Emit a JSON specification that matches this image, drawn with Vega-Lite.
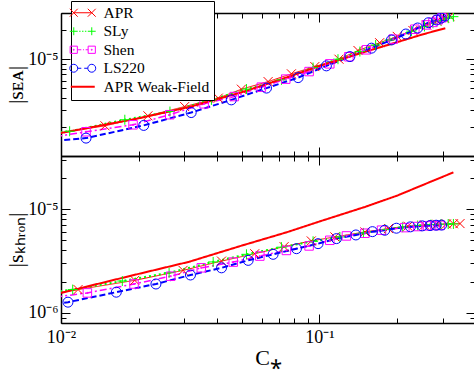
{
  "$schema": "https://vega.github.io/schema/vega-lite/v6.json",
  "background": "white",
  "padding": {"left": 4, "top": 0, "right": 1, "bottom": 2},
  "spacing": 0,
  "bounds": "flush",
  "config": {
    "font": "Liberation Serif",
    "view": {"stroke": null},
    "axis": {
      "domainColor": "black", "domainWidth": 1.5, "tickColor": "black", "tickWidth": 1,
      "labelColor": "black", "titleColor": "black", "labelFont": "Liberation Serif",
      "titleFont": "Liberation Serif", "labelFontSize": 18, "titleFontSize": 22,
      "titleFontWeight": "normal", "grid": false, "labelFlush": false, "labelOverlap": false
    }
  },
  "datasets": {
    "d": [
      {"panel":"EA","model":"APR","C":0.0095,"S":1.70e-6},{"panel":"EA","model":"APR","C":0.0148,"S":2.05e-6},{"panel":"EA","model":"APR","C":0.0217,"S":2.6e-6},{"panel":"EA","model":"APR","C":0.0301,"S":3.24e-6},{"panel":"EA","model":"APR","C":0.0406,"S":3.96e-6},{"panel":"EA","model":"APR","C":0.0499,"S":4.9e-6},{"panel":"EA","model":"APR","C":0.0633,"S":5.87e-6},{"panel":"EA","model":"APR","C":0.0779,"S":7.06e-6},{"panel":"EA","model":"APR","C":0.096,"S":8.39e-6},{"panel":"EA","model":"APR","C":0.119,"S":1.0e-5},{"panel":"EA","model":"APR","C":0.141,"S":1.23e-5},{"panel":"EA","model":"APR","C":0.171,"S":1.48e-5},{"panel":"EA","model":"APR","C":0.2,"S":1.72e-5},{"panel":"EA","model":"APR","C":0.23,"S":1.98e-5},{"panel":"EA","model":"APR","C":0.26,"S":2.25e-5},{"panel":"EA","model":"APR","C":0.285,"S":2.48e-5},{"panel":"EA","model":"APR","C":0.305,"S":2.65e-5},{"panel":"EA","model":"APR","C":0.32,"S":2.78e-5},
      {"panel":"EA","model":"SLy","C":0.0095,"S":1.75e-6},{"panel":"EA","model":"SLy","C":0.0108,"S":1.8e-6},{"panel":"EA","model":"SLy","C":0.01766,"S":2.37e-6},{"panel":"EA","model":"SLy","C":0.0264,"S":2.88e-6},{"panel":"EA","model":"SLy","C":0.0382,"S":3.8e-6},{"panel":"EA","model":"SLy","C":0.0522,"S":4.91e-6},{"panel":"EA","model":"SLy","C":0.0713,"S":6.12e-6},{"panel":"EA","model":"SLy","C":0.0945,"S":8.2e-6},{"panel":"EA","model":"SLy","C":0.118,"S":1.0e-5},{"panel":"EA","model":"SLy","C":0.1434,"S":1.2e-5},{"panel":"EA","model":"SLy","C":0.165,"S":1.4e-5},{"panel":"EA","model":"SLy","C":0.187,"S":1.58e-5},{"panel":"EA","model":"SLy","C":0.227,"S":1.95e-5},{"panel":"EA","model":"SLy","C":0.255,"S":2.18e-5},{"panel":"EA","model":"SLy","C":0.275,"S":2.35e-5},{"panel":"EA","model":"SLy","C":0.295,"S":2.5e-5},{"panel":"EA","model":"SLy","C":0.315,"S":2.65e-5},{"panel":"EA","model":"SLy","C":0.33,"S":2.75e-5},
      {"panel":"EA","model":"Shen","C":0.0095,"S":1.58e-6},{"panel":"EA","model":"Shen","C":0.0125,"S":1.78e-6},{"panel":"EA","model":"Shen","C":0.019,"S":2.1e-6},{"panel":"EA","model":"Shen","C":0.02635,"S":2.67e-6},{"panel":"EA","model":"Shen","C":0.0358,"S":3.46e-6},{"panel":"EA","model":"Shen","C":0.0468,"S":4.11e-6},{"panel":"EA","model":"Shen","C":0.0596,"S":5.14e-6},{"panel":"EA","model":"Shen","C":0.0741,"S":6.22e-6},{"panel":"EA","model":"Shen","C":0.0912,"S":7.45e-6},{"panel":"EA","model":"Shen","C":0.1097,"S":8.95e-6},{"panel":"EA","model":"Shen","C":0.13,"S":1.06e-5},{"panel":"EA","model":"Shen","C":0.152,"S":1.25e-5},{"panel":"EA","model":"Shen","C":0.193,"S":1.61e-5},{"panel":"EA","model":"Shen","C":0.234,"S":2.04e-5},{"panel":"EA","model":"Shen","C":0.259,"S":2.26e-5},{"panel":"EA","model":"Shen","C":0.275,"S":2.4e-5},{"panel":"EA","model":"Shen","C":0.288,"S":2.55e-5},{"panel":"EA","model":"Shen","C":0.298,"S":2.68e-5},
      {"panel":"EA","model":"LS220","C":0.0095,"S":1.44e-6},{"panel":"EA","model":"LS220","C":0.0125,"S":1.53e-6},{"panel":"EA","model":"LS220","C":0.0209,"S":2.07e-6},{"panel":"EA","model":"LS220","C":0.0319,"S":2.81e-6},{"panel":"EA","model":"LS220","C":0.0456,"S":3.8e-6},{"panel":"EA","model":"LS220","C":0.0624,"S":5.03e-6},{"panel":"EA","model":"LS220","C":0.0827,"S":6.45e-6},{"panel":"EA","model":"LS220","C":0.1064,"S":8.53e-6},{"panel":"EA","model":"LS220","C":0.1312,"S":1.064e-5},{"panel":"EA","model":"LS220","C":0.159,"S":1.3e-5},{"panel":"EA","model":"LS220","C":0.19,"S":1.58e-5},{"panel":"EA","model":"LS220","C":0.216,"S":1.82e-5},{"panel":"EA","model":"LS220","C":0.24,"S":2.1e-5},{"panel":"EA","model":"LS220","C":0.264,"S":2.38e-5},{"panel":"EA","model":"LS220","C":0.284,"S":2.54e-5},{"panel":"EA","model":"LS220","C":0.296,"S":2.66e-5},{"panel":"EA","model":"LS220","C":0.306,"S":2.79e-5},
      {"panel":"EA","model":"APR Weak-Field","C":0.01,"S":1.73e-6},{"panel":"EA","model":"APR Weak-Field","C":0.015,"S":2.12e-6},{"panel":"EA","model":"APR Weak-Field","C":0.02,"S":2.45e-6},{"panel":"EA","model":"APR Weak-Field","C":0.0313,"S":3.2e-6},{"panel":"EA","model":"APR Weak-Field","C":0.05,"S":4.55e-6},{"panel":"EA","model":"APR Weak-Field","C":0.075,"S":6.5e-6},{"panel":"EA","model":"APR Weak-Field","C":0.1,"S":8.5e-6},{"panel":"EA","model":"APR Weak-Field","C":0.15,"S":1.19e-5},{"panel":"EA","model":"APR Weak-Field","C":0.2,"S":1.5e-5},{"panel":"EA","model":"APR Weak-Field","C":0.25,"S":1.8e-5},{"panel":"EA","model":"APR Weak-Field","C":0.307,"S":2.09e-5},
      {"panel":"khron","model":"APR","C":0.0095,"S":1.55e-6},{"panel":"khron","model":"APR","C":0.01164,"S":1.68e-6},{"panel":"khron","model":"APR","C":0.0193,"S":2.06e-6},{"panel":"khron","model":"APR","C":0.02967,"S":2.57e-6},{"panel":"khron","model":"APR","C":0.0418,"S":3.16e-6},{"panel":"khron","model":"APR","C":0.0562,"S":3.72e-6},{"panel":"khron","model":"APR","C":0.073,"S":4.35e-6},{"panel":"khron","model":"APR","C":0.093,"S":4.94e-6},{"panel":"khron","model":"APR","C":0.1148,"S":5.4e-6},{"panel":"khron","model":"APR","C":0.15,"S":6.03e-6},{"panel":"khron","model":"APR","C":0.185,"S":6.5e-6},{"panel":"khron","model":"APR","C":0.22,"S":6.85e-6},{"panel":"khron","model":"APR","C":0.255,"S":7.05e-6},{"panel":"khron","model":"APR","C":0.285,"S":7.15e-6},{"panel":"khron","model":"APR","C":0.31,"S":7.2e-6},{"panel":"khron","model":"APR","C":0.33,"S":7.23e-6},{"panel":"khron","model":"APR","C":0.35,"S":7.26e-6},
      {"panel":"khron","model":"SLy","C":0.0095,"S":1.6e-6},{"panel":"khron","model":"SLy","C":0.0111,"S":1.68e-6},{"panel":"khron","model":"SLy","C":0.01727,"S":2.03e-6},{"panel":"khron","model":"SLy","C":0.0262,"S":2.44e-6},{"panel":"khron","model":"SLy","C":0.0388,"S":3.1e-6},{"panel":"khron","model":"SLy","C":0.0522,"S":3.67e-6},{"panel":"khron","model":"SLy","C":0.0713,"S":4.3e-6},{"panel":"khron","model":"SLy","C":0.0945,"S":4.9e-6},{"panel":"khron","model":"SLy","C":0.12,"S":5.4e-6},{"panel":"khron","model":"SLy","C":0.148,"S":5.9e-6},{"panel":"khron","model":"SLy","C":0.18,"S":6.35e-6},{"panel":"khron","model":"SLy","C":0.21,"S":6.7e-6},{"panel":"khron","model":"SLy","C":0.24,"S":6.95e-6},{"panel":"khron","model":"SLy","C":0.27,"S":7.1e-6},{"panel":"khron","model":"SLy","C":0.295,"S":7.15e-6},{"panel":"khron","model":"SLy","C":0.315,"S":7.18e-6},{"panel":"khron","model":"SLy","C":0.33,"S":7.2e-6},
      {"panel":"khron","model":"Shen","C":0.0095,"S":1.42e-6},{"panel":"khron","model":"Shen","C":0.01265,"S":1.56e-6},{"panel":"khron","model":"Shen","C":0.01917,"S":1.9e-6},{"panel":"khron","model":"Shen","C":0.0266,"S":2.26e-6},{"panel":"khron","model":"Shen","C":0.0349,"S":2.72e-6},{"panel":"khron","model":"Shen","C":0.0464,"S":3.09e-6},{"panel":"khron","model":"Shen","C":0.0588,"S":3.53e-6},{"panel":"khron","model":"Shen","C":0.0745,"S":4.0e-6},{"panel":"khron","model":"Shen","C":0.0912,"S":4.42e-6},{"panel":"khron","model":"Shen","C":0.1097,"S":5.01e-6},{"panel":"khron","model":"Shen","C":0.1272,"S":5.52e-6},{"panel":"khron","model":"Shen","C":0.15,"S":5.86e-6},{"panel":"khron","model":"Shen","C":0.1739,"S":6.27e-6},{"panel":"khron","model":"Shen","C":0.214,"S":6.64e-6},{"panel":"khron","model":"Shen","C":0.24,"S":6.8e-6},{"panel":"khron","model":"Shen","C":0.262,"S":6.9e-6},{"panel":"khron","model":"Shen","C":0.28,"S":6.95e-6},{"panel":"khron","model":"Shen","C":0.293,"S":6.98e-6},
      {"panel":"khron","model":"LS220","C":0.0095,"S":1.22e-6},{"panel":"khron","model":"LS220","C":0.01064,"S":1.27e-6},{"panel":"khron","model":"LS220","C":0.01637,"S":1.585e-6},{"panel":"khron","model":"LS220","C":0.0233,"S":1.9e-6},{"panel":"khron","model":"LS220","C":0.0317,"S":2.32e-6},{"panel":"khron","model":"LS220","C":0.0418,"S":2.72e-6},{"panel":"khron","model":"LS220","C":0.053,"S":3.21e-6},{"panel":"khron","model":"LS220","C":0.0662,"S":3.67e-6},{"panel":"khron","model":"LS220","C":0.0815,"S":4.16e-6},{"panel":"khron","model":"LS220","C":0.0988,"S":4.65e-6},{"panel":"khron","model":"LS220","C":0.1164,"S":5.2e-6},{"panel":"khron","model":"LS220","C":0.1384,"S":5.64e-6},{"panel":"khron","model":"LS220","C":0.1604,"S":6.07e-6},{"panel":"khron","model":"LS220","C":0.179,"S":6.26e-6},{"panel":"khron","model":"LS220","C":0.1986,"S":6.55e-6},{"panel":"khron","model":"LS220","C":0.225,"S":6.75e-6},{"panel":"khron","model":"LS220","C":0.25,"S":6.9e-6},{"panel":"khron","model":"LS220","C":0.268,"S":6.95e-6},{"panel":"khron","model":"LS220","C":0.283,"S":7.0e-6},{"panel":"khron","model":"LS220","C":0.297,"S":7.02e-6},
      {"panel":"khron","model":"APR Weak-Field","C":0.01,"S":1.56e-6},{"panel":"khron","model":"APR Weak-Field","C":0.02,"S":2.38e-6},{"panel":"khron","model":"APR Weak-Field","C":0.0313,"S":3.11e-6},{"panel":"khron","model":"APR Weak-Field","C":0.05,"S":4.45e-6},{"panel":"khron","model":"APR Weak-Field","C":0.075,"S":6.0e-6},{"panel":"khron","model":"APR Weak-Field","C":0.1,"S":7.6e-6},{"panel":"khron","model":"APR Weak-Field","C":0.15,"S":1.05e-5},{"panel":"khron","model":"APR Weak-Field","C":0.2,"S":1.35e-5},{"panel":"khron","model":"APR Weak-Field","C":0.25,"S":1.7e-5},{"panel":"khron","model":"APR Weak-Field","C":0.3,"S":2.05e-5},{"panel":"khron","model":"APR Weak-Field","C":0.33,"S":2.26e-5}
    ]
  },
  "resolve": {"scale": {"color": "independent"}, "legend": {"color": "independent"}},
  "vconcat": [
    {
      "width": 414, "height": 143,
      "data": {"name": "d"},
      "transform": [{"filter": "datum.panel == 'EA'"}],
      "resolve": {"axis": {"x": "independent", "y": "independent"}},
      "layer": [
        {
          "mark": {"type": "line", "clip": true},
          "encoding": {
            "x": {"field": "C", "type": "quantitative", "scale": {"type": "log", "domain": [0.01, 0.4], "nice": false},
                  "axis": {"orient": "bottom", "title": null, "labels": false, "values": [0.01,0.02,0.03,0.04,0.05,0.06,0.07,0.08,0.09,0.1,0.2,0.3],
                           "tickSize": {"condition": {"test": "datum.value == 0.01 || datum.value == 0.1", "value": -9}, "value": -5}}},
            "y": {"field": "S", "type": "quantitative", "scale": {"type": "log", "domain": [1e-6, 3e-5], "nice": false},
                  "axis": {"orient": "left", "title": "|sᴇᴀ|", "titlePadding": 0, "labelPadding": 12,
                           "values": [1e-6,2e-6,3e-6,4e-6,5e-6,6e-6,7e-6,8e-6,9e-6,1e-5,2e-5,3e-5],
                           "labelExpr": "datum.value == 1e-5 ? '10⁻⁵' : ''",
                           "tickSize": {"condition": {"test": "datum.value == 1e-5 || datum.value == 1e-6", "value": -9}, "value": -5}}},
            "color": {"field": "model", "type": "nominal",
                      "scale": {"domain": ["APR", "SLy", "Shen", "LS220", "APR Weak-Field"], "range": ["#ff0000", "#00ff00", "#ff00ff", "#0000ff", "#ff0000"]},
                      "legend": {
                        "orient": "none", "legendX": 10, "legendY": -12, "title": null,
                        "strokeColor": "black", "fillColor": "white", "padding": 4,
                        "labelFont": "Liberation Serif", "labelFontSize": 15.5, "labelColor": "black", "labelOffset": 13,
                        "symbolSize": 576, "symbolStrokeWidth": 1, "rowPadding": 1.5,
                        "encode": {"symbols": {"update": {
                          "shape": {"signal": "datum.value == 'APR' ? 'M-1.08,-0.33L-0.42,0.33M-1.08,0.33L-0.42,-0.33M-0.75,0H0.75M0.42,-0.33L1.08,0.33M0.42,0.33L1.08,-0.33' : datum.value == 'SLy' ? 'M-1.08,0H-0.42M-0.75,-0.33V0.33M-0.3,0H-0.18M-0.06,0H0.06M0.18,0H0.3M0.42,0H1.08M0.75,-0.33V0.33' : datum.value == 'Shen' ? 'M-1.05,-0.3H-0.45V0.3H-1.05ZM-0.78,-0.04H-0.72V0.04H-0.78ZM-0.45,0H-0.12M0.02,0H0.1M0.24,0H0.45M0.45,-0.3H1.05V0.3H0.45ZM0.72,-0.04H0.78V0.04H0.72Z' : datum.value == 'LS220' ? 'M-0.42,0A0.33,0.33,0,1,1,-1.08,0A0.33,0.33,0,1,1,-0.42,0ZM-0.42,0H-0.12M0.12,0H0.42M1.08,0A0.33,0.33,0,1,1,0.42,0A0.33,0.33,0,1,1,1.08,0Z' : 'M-1,0H1'"},
                          "stroke": {"signal": "datum.value == 'SLy' ? '#00ff00' : datum.value == 'Shen' ? '#ff00ff' : datum.value == 'LS220' ? '#0000ff' : '#ff0000'"},
                          "strokeWidth": {"signal": "datum.value == 'APR Weak-Field' ? 2 : 1"},
                          "fill": {"value": "transparent"},
                          "opacity": {"value": 1}
                        }}}
                      }},
            "strokeDash": {"field": "model", "type": "nominal", "legend": null,
                           "scale": {"domain": ["APR", "SLy", "Shen", "LS220", "APR Weak-Field"], "range": [[1, 0], [2, 3], [7, 3, 2, 3], [6, 3], [1, 0]]}},
            "strokeWidth": {"field": "model", "type": "nominal", "legend": null,
                            "scale": {"type": "ordinal", "domain": ["APR", "SLy", "Shen", "LS220", "APR Weak-Field"], "range": [1, 2, 1.5, 2, 2]}}
          }
        },
        {
          "transform": [{"filter": "datum.model != 'APR Weak-Field'"}],
          "mark": {"type": "point", "clip": true, "filled": false, "size": 100, "strokeWidth": 1, "opacity": 1},
          "encoding": {
            "x": {"field": "C", "type": "quantitative", "scale": {"type": "log", "domain": [0.01, 0.4], "nice": false},
                  "axis": {"orient": "top", "title": null, "labels": false, "values": [0.01,0.02,0.03,0.04,0.05,0.06,0.07,0.08,0.09,0.1,0.2,0.3],
                           "tickSize": {"condition": {"test": "datum.value == 0.01 || datum.value == 0.1", "value": -9}, "value": -5}}},
            "y": {"field": "S", "type": "quantitative", "scale": {"type": "log", "domain": [1e-6, 3e-5], "nice": false},
                  "axis": {"orient": "right", "title": null, "labels": false,
                           "values": [1e-6,2e-6,3e-6,4e-6,5e-6,6e-6,7e-6,8e-6,9e-6,1e-5,2e-5,3e-5],
                           "tickSize": {"condition": {"test": "datum.value == 1e-5 || datum.value == 1e-6", "value": -9}, "value": -5}}},
            "color": {"field": "model", "type": "nominal", "legend": null},
            "shape": {"field": "model", "type": "nominal", "legend": null,
                      "scale": {"domain": ["APR", "SLy", "Shen", "LS220"],
                                "range": ["M-0.9,-0.9L0.9,0.9M-0.9,0.9L0.9,-0.9", "M-1,0H1M0,-1V1", "M-0.85,-0.85H0.85V0.85H-0.85ZM-0.1,-0.1H0.1V0.1H-0.1Z", "M1,0A1,1,0,1,1,-1,0A1,1,0,1,1,1,0Z"]}}
          }
        }
      ]
    },
    {
      "width": 414, "height": 167,
      "data": {"name": "d"},
      "transform": [{"filter": "datum.panel == 'khron'"}],
      "resolve": {"axis": {"x": "independent", "y": "independent"}},
      "layer": [
        {
          "mark": {"type": "line", "clip": true},
          "encoding": {
            "x": {"field": "C", "type": "quantitative", "scale": {"type": "log", "domain": [0.01, 0.4], "nice": false},
                  "axis": {"orient": "bottom", "title": "C⁎", "titlePadding": -3, "labelPadding": 14, "labelBaseline": "top",
                           "values": [0.01,0.02,0.03,0.04,0.05,0.06,0.07,0.08,0.09,0.1,0.2,0.3],
                           "labelExpr": "datum.value == 0.01 ? '10⁻²' : datum.value == 0.1 ? '10⁻¹' : ''",
                           "tickSize": {"condition": {"test": "datum.value == 0.01 || datum.value == 0.1", "value": -9}, "value": -5}}},
            "y": {"field": "S", "type": "quantitative", "scale": {"type": "log", "domain": [8e-7, 3.25e-5], "nice": false},
                  "axis": {"orient": "left", "title": "|sₖₕᵣₒₙ|", "titlePadding": 0, "labelPadding": 12,
                           "values": [8e-7,9e-7,1e-6,2e-6,3e-6,4e-6,5e-6,6e-6,7e-6,8e-6,9e-6,1e-5,2e-5,3e-5],
                           "labelExpr": "datum.value == 1e-5 ? '10⁻⁵' : datum.value == 1e-6 ? '10⁻⁶' : ''",
                           "tickSize": {"condition": {"test": "datum.value == 1e-5 || datum.value == 1e-6", "value": -9}, "value": -5}}},
            "color": {"field": "model", "type": "nominal", "legend": null,
                      "scale": {"domain": ["APR", "SLy", "Shen", "LS220", "APR Weak-Field"], "range": ["#ff0000", "#00ff00", "#ff00ff", "#0000ff", "#ff0000"]}},
            "strokeDash": {"field": "model", "type": "nominal", "legend": null,
                           "scale": {"domain": ["APR", "SLy", "Shen", "LS220", "APR Weak-Field"], "range": [[1, 0], [2, 3], [7, 3, 2, 3], [6, 3], [1, 0]]}},
            "strokeWidth": {"field": "model", "type": "nominal", "legend": null,
                            "scale": {"type": "ordinal", "domain": ["APR", "SLy", "Shen", "LS220", "APR Weak-Field"], "range": [1, 2, 1.5, 2, 2]}}
          }
        },
        {
          "transform": [{"filter": "datum.model != 'APR Weak-Field'"}],
          "mark": {"type": "point", "clip": true, "filled": false, "size": 100, "strokeWidth": 1, "opacity": 1},
          "encoding": {
            "x": {"field": "C", "type": "quantitative", "scale": {"type": "log", "domain": [0.01, 0.4], "nice": false},
                  "axis": {"orient": "top", "title": null, "labels": false, "values": [0.01,0.02,0.03,0.04,0.05,0.06,0.07,0.08,0.09,0.1,0.2,0.3],
                           "tickSize": {"condition": {"test": "datum.value == 0.01 || datum.value == 0.1", "value": -9}, "value": -5}}},
            "y": {"field": "S", "type": "quantitative", "scale": {"type": "log", "domain": [8e-7, 3.25e-5], "nice": false},
                  "axis": {"orient": "right", "title": null, "labels": false,
                           "values": [8e-7,9e-7,1e-6,2e-6,3e-6,4e-6,5e-6,6e-6,7e-6,8e-6,9e-6,1e-5,2e-5,3e-5],
                           "tickSize": {"condition": {"test": "datum.value == 1e-5 || datum.value == 1e-6", "value": -9}, "value": -5}}},
            "color": {"field": "model", "type": "nominal", "legend": null},
            "shape": {"field": "model", "type": "nominal", "legend": null,
                      "scale": {"domain": ["APR", "SLy", "Shen", "LS220"],
                                "range": ["M-0.9,-0.9L0.9,0.9M-0.9,0.9L0.9,-0.9", "M-1,0H1M0,-1V1", "M-0.85,-0.85H0.85V0.85H-0.85ZM-0.1,-0.1H0.1V0.1H-0.1Z", "M1,0A1,1,0,1,1,-1,0A1,1,0,1,1,1,0Z"]}}
          }
        }
      ]
    }
  ]
}
